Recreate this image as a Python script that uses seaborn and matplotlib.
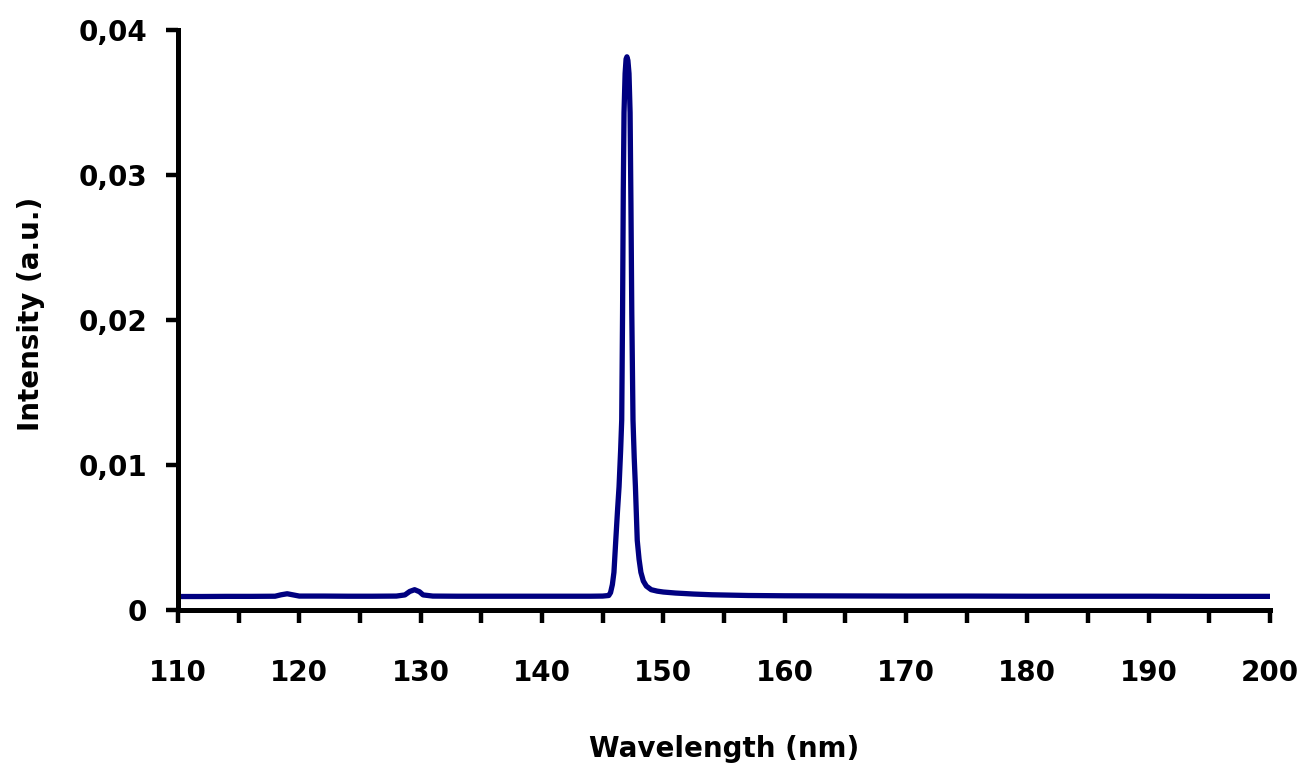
import matplotlib
matplotlib.use("Agg")
import matplotlib.pyplot as plt
from matplotlib.ticker import MultipleLocator, FuncFormatter
import seaborn as sns
import pandas as pd

# Spectrum
wavelength_nm = [
    110.0, 112.0, 114.0, 116.0, 118.0, 118.5, 119.0, 119.5, 120.0, 122.0,
    124.0, 126.0, 128.0, 128.7, 129.1, 129.5, 129.9, 130.2, 131.0, 133.0,
    136.0, 139.0, 142.0, 144.0, 145.0, 145.5, 145.65, 145.8, 145.93, 146.08,
    146.22, 146.35, 146.48, 146.57, 146.64, 146.70, 146.76, 146.85, 146.93, 147.0,
    147.08, 147.17, 147.26, 147.33, 147.40, 147.50, 147.60, 147.70, 147.85, 148.0,
    148.15, 148.35, 148.6, 149.0, 149.5, 150.0, 151.0, 152.5, 154.0, 157.0,
    160.0, 165.0, 170.0, 175.0, 180.0, 185.0, 190.0, 195.0, 200.0,
]
intensity_au = [
    0.00093, 0.00093, 0.00094, 0.00094, 0.00095, 0.00105, 0.00112, 0.00104, 0.00096, 0.00096,
    0.00095, 0.00095, 0.00096, 0.00104, 0.00128, 0.00140, 0.00126, 0.00104, 0.00096, 0.00095,
    0.00095, 0.00095, 0.00095, 0.00095, 0.00096, 0.00100, 0.00120, 0.00175, 0.00260, 0.00480,
    0.00680, 0.00850, 0.01100, 0.01310, 0.02050, 0.02900, 0.03430, 0.03700, 0.03800, 0.03815,
    0.03790, 0.03700, 0.03430, 0.02800, 0.02050, 0.01310, 0.01050, 0.00850, 0.00480, 0.00350,
    0.00260, 0.00200, 0.00165, 0.00140, 0.00130, 0.00124, 0.00117, 0.00110, 0.00105, 0.00100,
    0.00098, 0.00097, 0.00096, 0.00096, 0.00095, 0.00095, 0.00095, 0.00094, 0.00094,
]

x_ticks = [110, 120, 130, 140, 150, 160, 170, 180, 190, 200]
y_ticks = [0.0, 0.01, 0.02, 0.03, 0.04]
x_label = "Wavelength (nm)"
y_label = "Intensity (a.u.)"

df = pd.DataFrame({"wl": wavelength_nm, "I": intensity_au})

sns.set_theme(style="ticks")
plt.rcParams["font.family"] = ["DejaVu Sans"]

fig = plt.figure(figsize=(13.06, 7.73), dpi=100)
ax = fig.add_axes([178 / 1306, 1 - 610 / 773, (1270 - 178) / 1306, (610 - 30) / 773])

sns.lineplot(data=df, x="wl", y="I", ax=ax, color="#000080", linewidth=3.8,
             sort=True, estimator=None)

ax.set_xlim(110, 200)
ax.set_ylim(0, 0.04)
ax.set_xticks(x_ticks)
ax.set_yticks(y_ticks)
ax.xaxis.set_minor_locator(MultipleLocator(5))

def comma_fmt(v, pos):
    if abs(v) < 1e-12:
        return "0"
    return ("%.2f" % v).replace(".", ",")

ax.yaxis.set_major_formatter(FuncFormatter(comma_fmt))
ax.xaxis.set_major_formatter(FuncFormatter(lambda v, p: "%d" % v))

for s in ["top", "right"]:
    ax.spines[s].set_visible(False)
for s in ["left", "bottom"]:
    ax.spines[s].set_linewidth(3.6)
    ax.spines[s].set_color("black")

ax.tick_params(axis="x", which="both", direction="out", length=9, width=3.2,
               color="black", pad=26, labelsize=20)
ax.tick_params(axis="y", which="major", direction="out", length=9, width=3.2,
               color="black", pad=13, labelsize=20)
for lab in ax.get_xticklabels() + ax.get_yticklabels():
    lab.set_fontweight("bold")
    lab.set_color("black")

ax.set_xlabel(x_label, fontsize=20, fontweight="bold", color="black")
ax.set_ylabel(y_label, fontsize=20, fontweight="bold", color="black")
ax.xaxis.set_label_coords(0.5, -0.215)
ax.yaxis.set_label_coords(-0.122, 0.51)

ax.grid(False)
ax.set_facecolor("white")
fig.patch.set_facecolor("white")

fig.savefig("out.png", dpi=100, facecolor="white")
